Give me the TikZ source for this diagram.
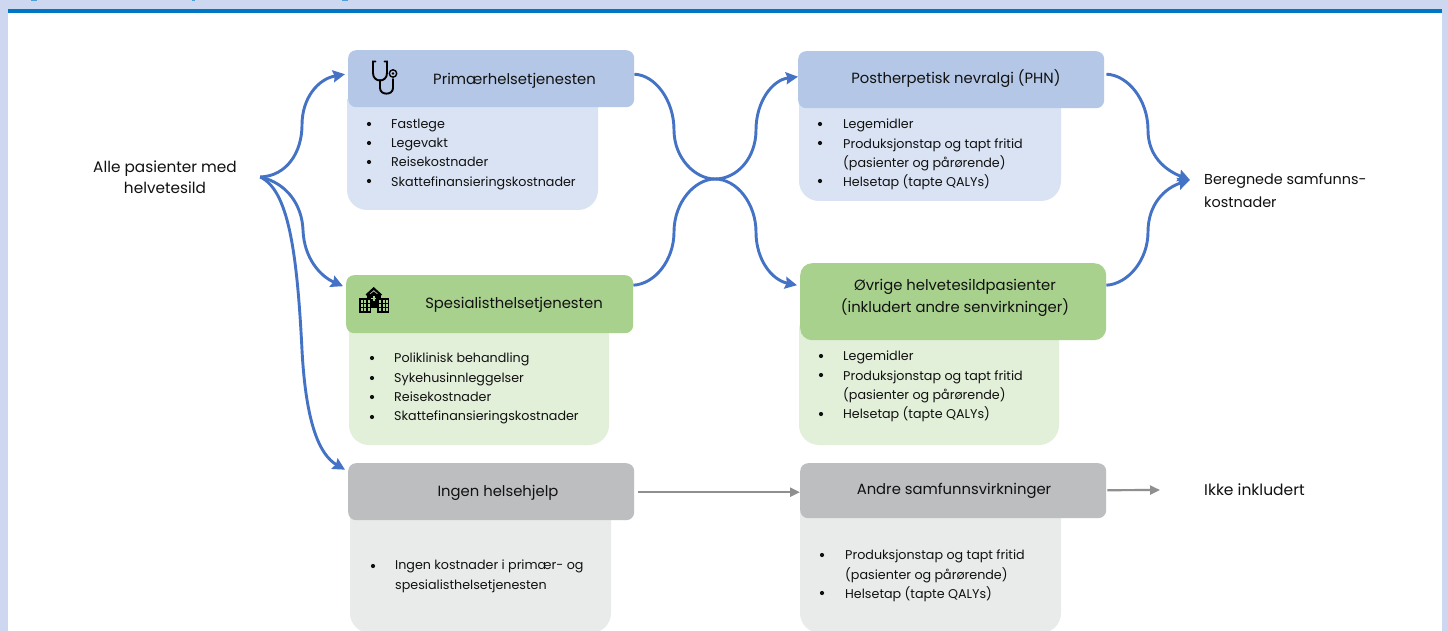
\documentclass[tikz,border=0pt]{standalone}
\usepackage{fontspec}
\setmainfont{Poppins}
\usetikzlibrary{arrows.meta,positioning,calc}
\definecolor{pagebg}{HTML}{CDD7F0}
\definecolor{topbar}{HTML}{0077C4}
\definecolor{hblue}{HTML}{B4C7E7}
\definecolor{bblue}{HTML}{DAE3F3}
\definecolor{hgreen}{HTML}{A9D18E}
\definecolor{bgreen}{HTML}{E2EFD9}
\definecolor{hgray}{HTML}{BDBEC0}
\definecolor{bgray}{HTML}{E9EBEB}
\definecolor{flow}{HTML}{4472C4}
\definecolor{flowgray}{HTML}{8F8F8F}
\definecolor{ink}{HTML}{111111}
\tikzset{
  x=1pt,y=-1pt,
  every node/.style={text=ink,font=\fontsize{14.8}{22}\selectfont},
  head/.style={anchor=north west,inner sep=0pt,rounded corners=8pt,align=center},
  itemtext/.style={anchor=north west,inner sep=0pt,align=left,font=\fontsize{12.7}{19.2}\selectfont},
  lone/.style={inner sep=0pt,align=left},
  flowline/.style={draw=flow,line width=2.9pt,-{Stealth[length=12pt,width=12pt,inset=1.5pt]}},
  flownotip/.style={draw=flow,line width=2.9pt},
  grayline/.style={draw=flowgray,line width=2.2pt,-{Triangle[length=10pt,width=9pt]}},
}
\newcommand{\blist}[3]{% x, y, text
  \node[itemtext] at (#1,#2) {#3};
}
\newcommand{\dotat}[2]{\fill[ink] (#1,#2) circle (2.1pt);}
\begin{document}
\begin{tikzpicture}
\useasboundingbox (0,0) rectangle (1448,631);
\fill[pagebg] (0,0) rectangle (1448,631);
\fill[white] (8,13) rectangle (1442,631);
\fill[topbar] (8,9) rectangle (1442,13);
% cropped title remnants
\fill[topbar!70] (31,0) rectangle (37,1.3);
\fill[topbar!70] (192,0) rectangle (195,1.3);
\fill[topbar!70] (342,0) rectangle (348,1.3);

% body panels
\begin{scope}
\clip (0,100) rectangle (1448,631);
\fill[bblue,rounded corners=20pt] (347,80) rectangle (598,210);
\fill[bgreen,rounded corners=20pt] (349,300) rectangle (609,445);
\fill[bgray,rounded corners=20pt] (350,490) rectangle (611,633);
\fill[bblue,rounded corners=20pt] (799,80) rectangle (1061,201);
\fill[bgreen,rounded corners=20pt] (799,310) rectangle (1059,445);
\fill[bgray,rounded corners=20pt] (800,490) rectangle (1061,633);
\end{scope}

% header boxes
\node[head,fill=hblue,minimum width=286pt,minimum height=57pt] (prim) at (348,50) {};
\node at (514.5,81) {Primærhelsetjenesten};
\node[head,fill=hgreen,minimum width=287pt,minimum height=58pt] (spes) at (346,275) {};
\node at (514,305) {Spesialisthelsetjenesten};
\node[head,fill=hgray,minimum width=286pt,minimum height=57pt] (ingen) at (348,463) {};
\node at (498,493) {Ingen helsehjelp};
\node[head,fill=hblue,minimum width=306pt,minimum height=57pt] (phn) at (798,51) {};
\node at (956,79) {Postherpetisk nevralgi (PHN)};
\node[head,fill=hgreen,minimum width=306pt,minimum height=77pt,rounded corners=12pt] (ovr) at (800,263) {};
\node[align=center] at (955,298) {Øvrige helvetesildpasienter\\(inkludert andre senvirkninger)};
\node[head,fill=hgray,minimum width=306pt,minimum height=55pt] (andre) at (800,463) {};
\node at (954,491) {Andre samfunnsvirkninger};

% free labels
\node[align=center,minimum width=190pt,inner sep=0pt,font=\fontsize{15.3}{21.5}\selectfont] (alle) at (165,177) {Alle pasienter med\\helvetesild};
\node[lone,anchor=west,font=\fontsize{14.4}{23}\selectfont] (beregn) at (1204,190.5) {Beregnede samfunns-\\kostnader};
\node[lone,anchor=west,font=\fontsize{15.5}{22}\selectfont] (ikke) at (1204,489.5) {Ikke inkludert};

% bullet lists
\dotat{369}{124}\dotat{369}{143}\dotat{369}{162}\dotat{369}{181}
\blist{391}{119}{Fastlege\\Legevakt\\Reisekostnader\\Skattefinansieringskostnader}
\dotat{372}{358}\dotat{372}{378}\dotat{372}{397}\dotat{372}{417}
\blist{394}{353}{Poliklinisk behandling\\Sykehusinnleggelser\\Reisekostnader\\Skattefinansieringskostnader}
\dotat{373}{566}
\blist{395}{560}{Ingen kostnader i primær- og\\spesialisthelsetjenesten}
\dotat{820}{124}\dotat{820}{143}\dotat{820}{181}
\blist{843}{119}{Legemidler\\Produksjonstap og tapt fritid\\(pasienter og pårørende)\\Helsetap (tapte QALYs)}
\dotat{821}{356}\dotat{821}{375}\dotat{821}{414}
\blist{843}{351}{Legemidler\\Produksjonstap og tapt fritid\\(pasienter og pårørende)\\Helsetap (tapte QALYs)}
\dotat{822}{555}\dotat{822}{593}
\blist{845}{550}{Produksjonstap og tapt fritid\\(pasienter og pårørende)\\Helsetap (tapte QALYs)}

% connector anchors
\coordinate (from) at (alle.east);
\coordinate (hub) at (715,179);
\coordinate (primin) at ($(prim.west)+(-3,-4.5)$);
\coordinate (spesin) at ($(spes.west)+(-3,-18)$);
\coordinate (ingenin) at ($(ingen.west)+(-3,-22)$);
\coordinate (primout) at ($(prim.east)+(0,-4.5)$);
\coordinate (spesout) at ($(spes.east)+(0,-19)$);
\coordinate (phnin) at ($(phn.west)+(0,-3)$);
\coordinate (ovrin) at ($(ovr.west)+(-3,-16.5)$);
\coordinate (phnout) at ($(phn.east)+(2,-5.5)$);
\coordinate (ovrout) at ($(ovr.east)+(0,-16.5)$);
\coordinate (merge) at ($(beregn.west)+(-14,-10.5)$);
\coordinate (grayaout) at ($(ingen.east)+(4,0.5)$);
\coordinate (grayain) at ($(andre.west)+(0,1.5)$);
\coordinate (graybout) at ($(andre.east)+(1,-0.5)$);
\coordinate (graybend) at ($(ikke.west)+(-44,0.5)$);

% left fan
\draw[flowline] (from) .. controls (287,176) and (302,152) .. (302,125)
  .. controls (302,98) and (318,79) .. (primin);
\draw[flowline] (from) .. controls (287,183) and (302,205) .. (303,230)
  .. controls (304,258) and (320,276) .. (spesin);
\draw[flowline] (from) .. controls (288,190) and (297,250) .. (302,350)
  .. controls (306,425) and (320,455) .. (ingenin);
% crossing curves
\draw[flownotip] (primout) .. controls (655,75) and (674,100) .. (674,130)
  .. controls (674,158) and (695,179) .. (hub);
\draw[flownotip] (spesout) .. controls (655,284) and (674,260) .. (674,232)
  .. controls (674,202) and (695,179) .. (hub);
\draw[flowline] (hub) .. controls (737,179) and (756,158) .. (756,130)
  .. controls (756,102) and (772,80) .. (phnin);
\draw[flowline] (hub) .. controls (737,179) and (756,204) .. (756,232)
  .. controls (756,260) and (772,280) .. (ovrin);
% right merge
\draw[flowline] (phnout) .. controls (1128,75) and (1148,100) .. (1148,130)
  .. controls (1148,156) and (1165,170) .. (merge);
\draw[flowline] (ovrout) .. controls (1128,284) and (1148,260) .. (1148,232)
  .. controls (1148,204) and (1165,188) .. (merge);
% gray arrows
\draw[grayline] (grayaout) -- (grayain);
\draw[grayline] (graybout) -- (graybend);

% stethoscope icon
\begin{scope}[draw=black,line width=1.9pt,line cap=round,fill=none]
\draw (375.5,61.5) -- (373,61.5) -- (373,73) .. controls (373,83) and (387,83) .. (387,73) -- (387,61.5) -- (384.5,61.5);
\draw (380,80) -- (380,88) .. controls (380,95.5) and (393,95.5) .. (393,88) -- (393,79);
\draw[line width=1.4pt] (393,73.5) circle (3.7pt);
\fill[black] (393,73.5) circle (1.4pt);
\end{scope}

% hospital icon
\begin{scope}
\fill[black] (358.5,298) rectangle (389,312.5);
\fill[black] (367,294) rectangle (380.5,300);
\fill[black] (373.7,287) -- (382,294.5) -- (380.5,296) -- (373.7,290) -- (367,296) -- (365.5,294.5) -- cycle;
\fill[black] (373.7,291.5) -- (380,296.5) -- (367.5,296.5) -- cycle;
\fill[hgreen] (371,308) rectangle (376.5,312.5);
\fill[hgreen] (373,296) rectangle (374.5,301);
\fill[hgreen] (371.2,297.8) rectangle (376.3,299.2);
\foreach \yy in {300.2,304.2,308.2}{
  \foreach \xx in {360.5,364,367.5,379,382.5,386}{
    \fill[hgreen] (\xx,\yy) rectangle ++(2,2.3);
  }
}
\end{scope}
\end{tikzpicture}
\end{document}
